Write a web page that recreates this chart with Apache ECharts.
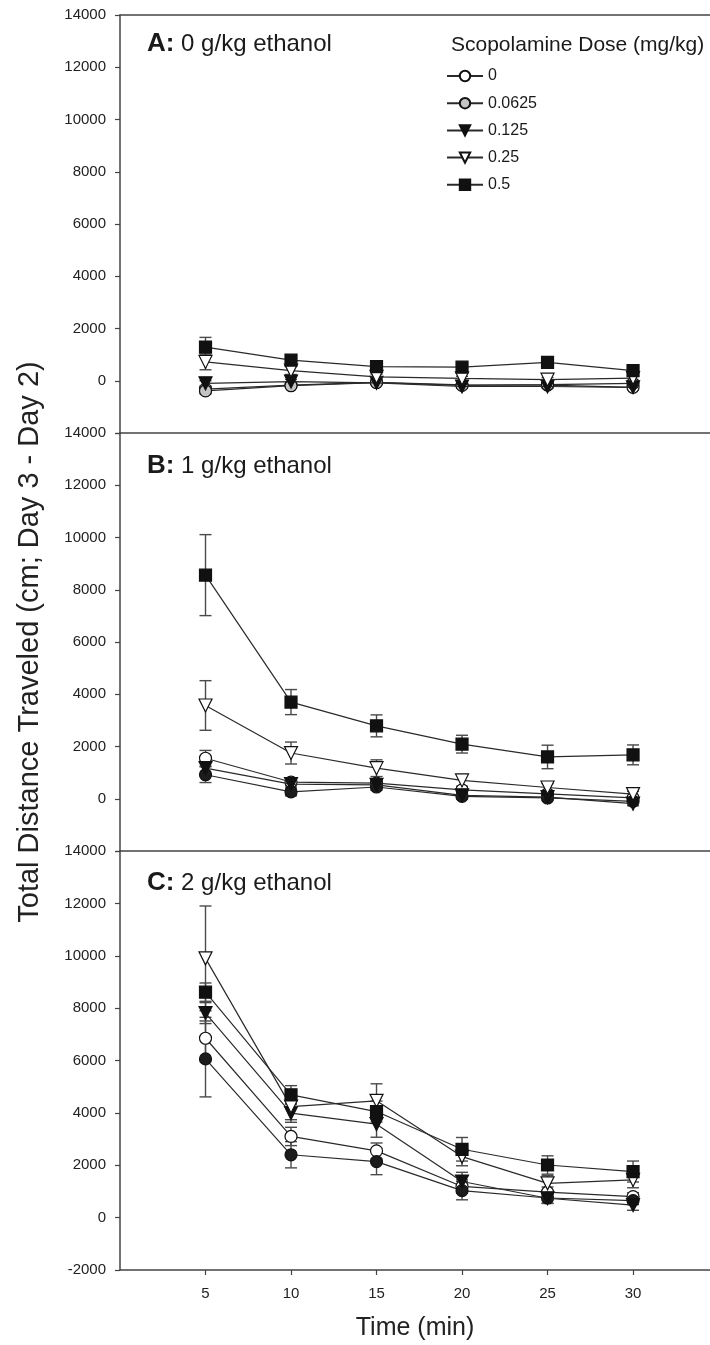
<!DOCTYPE html>
<html><head><meta charset="utf-8">
<script src="https://cdn.jsdelivr.net/npm/echarts@6/dist/echarts.min.js"></script>
<style>html,body{margin:0;padding:0;background:#fff}#c{width:710px;height:1345px}</style>
</head><body><div id="c"></div>
<script>
// ---- data ----
const times = [5, 10, 15, 20, 25, 30];
const doses = ['0', '0.0625', '0.125', '0.25', '0.5'];
const xTickValues = [5, 10, 15, 20, 25, 30];
const panelLetters = ['A:', 'B:', 'C:'];
const panelNames = ['0 g/kg ethanol', '1 g/kg ethanol', '2 g/kg ethanol'];

// Panel A: 0 g/kg ethanol (rows follow doses)
const meansA = [
  [-320, -170, -60, -160, -170, -250],
  [-390, -190, -70, -180, -150, -100],
  [-100, -30, -80, -220, -220, -250],
  [720, 390, 150, 90, 40, 100],
  [1290, 790, 540, 520, 700, 390]
];
const seA = [
  [100, 80, 60, 60, 60, 60],
  [100, 80, 60, 60, 60, 60],
  [100, 80, 60, 60, 60, 60],
  [300, 150, 100, 80, 80, 80],
  [370, 150, 120, 120, 150, 120]
];
// Panel B: 1 g/kg ethanol
const meansB = [
  [1550, 640, 600, 340, 190, 30],
  [920, 260, 450, 90, 30, -100],
  [1170, 560, 530, 130, 60, -190],
  [3570, 1750, 1170, 700, 430, 180],
  [8560, 3700, 2790, 2090, 1600, 1680]
];
const seB = [
  [300, 150, 120, 100, 100, 80],
  [300, 150, 120, 100, 80, 80],
  [250, 150, 120, 100, 80, 80],
  [950, 420, 320, 220, 150, 100],
  [1550, 480, 420, 340, 450, 380]
];
// Panel C: 2 g/kg ethanol
const meansC = [
  [6850, 3100, 2550, 1190, 970, 800],
  [6060, 2400, 2140, 1030, 750, 650],
  [7810, 3990, 3570, 1380, 740, 480],
  [9900, 4240, 4460, 2330, 1310, 1440],
  [8610, 4690, 4050, 2610, 2010, 1760]
];
const seC = [
  [800, 350, 300, 250, 200, 150],
  [1450, 500, 500, 350, 200, 150],
  [400, 350, 500, 350, 200, 200],
  [2000, 500, 650, 350, 300, 300],
  [350, 350, 400, 450, 350, 400]
];

// ---- styling ----
const FONT = 'Liberation Sans, Arial, sans-serif';
const AX = '#444';
const LINE = '#2a2a2a';
const markers = [
  {symbol: 'circle', size: 12, rotate: 0, fill: '#ffffff'},
  {symbol: 'circle', size: 12, rotate: 0, fill: null},
  {symbol: 'triangle', size: 13, rotate: 180, fill: '#111111'},
  {symbol: 'triangle', size: 13, rotate: 180, fill: '#ffffff'},
  {symbol: 'rect', size: 12, rotate: 0, fill: '#111111'}
];
const grayFill = ['#c4c4c4', '#1c1c1c', '#1c1c1c'];

const grids = [
  {left: 120, top: 15, width: 590, height: 418},
  {left: 120, top: 433, width: 590, height: 418},
  {left: 120, top: 851, width: 590, height: 419}
];

const xAxes = [0, 1, 2].map(i => ({
  type: 'value', gridIndex: i, min: 0, max: 34.5,
  axisLine: {show: true, onZero: false, lineStyle: {color: AX, width: 1.5}},
  axisTick: {show: i === 2, customValues: xTickValues, length: 5, lineStyle: {color: AX, width: 1.2}},
  axisLabel: {show: i === 2, customValues: xTickValues, margin: 16, fontSize: 15, color: '#222', fontFamily: FONT},
  splitLine: {show: false},
  name: i === 2 ? 'Time (min)' : '', nameLocation: 'middle', nameGap: 46,
  nameTextStyle: {fontSize: 25, color: '#222', fontFamily: FONT}
}));
// top frame line of panel A
xAxes.push({
  type: 'value', gridIndex: 0, position: 'top', min: 0, max: 34.5,
  axisLine: {show: true, onZero: false, lineStyle: {color: AX, width: 1.5}},
  axisTick: {show: false}, axisLabel: {show: false}, splitLine: {show: false}
});

const yAxes = [0, 1, 2].map(i => ({
  type: 'value', gridIndex: i, min: -2000, max: 14000, interval: 2000,
  axisLine: {show: true, onZero: false, lineStyle: {color: AX, width: 1.5}},
  axisTick: {show: true, length: 5, lineStyle: {color: AX, width: 1.2}},
  axisLabel: {
    margin: 14, fontSize: 15, color: '#222', fontFamily: FONT,
    formatter: v => (i < 2 && v === -2000) ? '' : String(v)
  },
  splitLine: {show: false},
  name: i === 1 ? 'Total Distance Traveled (cm; Day 3 - Day 2)' : '',
  nameLocation: 'middle', nameGap: 76,
  nameTextStyle: {fontSize: 29, color: '#222', fontFamily: FONT}
}));

const allMeans = [meansA, meansB, meansC];
const allSE = [seA, seB, seC];
const series = [];

for (let p = 0; p < 3; p++) {
  for (let d = 0; d < doses.length; d++) {
    const ebData = times.map((t, k) => [t, allMeans[p][d][k], allSE[p][d][k]]);
    series.push({
      type: 'custom', xAxisIndex: p, yAxisIndex: p, z: 2, silent: true,
      data: ebData, encode: {x: 0, y: 1},
      renderItem: (params, api) => {
        const x = api.value(0), y = api.value(1), e = api.value(2);
        const top = api.coord([x, y + e]);
        const bot = api.coord([x, y - e]);
        const w = 6;
        const st = {stroke: '#4a4a4a', lineWidth: 1.4};
        return {type: 'group', children: [
          {type: 'line', shape: {x1: top[0], y1: top[1], x2: bot[0], y2: bot[1]}, style: st},
          {type: 'line', shape: {x1: top[0] - w, y1: top[1], x2: top[0] + w, y2: top[1]}, style: st},
          {type: 'line', shape: {x1: bot[0] - w, y1: bot[1], x2: bot[0] + w, y2: bot[1]}, style: st}
        ]};
      }
    });
  }
  for (let d = 0; d < doses.length; d++) {
    const m = markers[d];
    const fill = m.fill === null ? grayFill[p] : m.fill;
    series.push({
      name: doses[d], type: 'line', xAxisIndex: p, yAxisIndex: p, z: 3 + d,
      data: times.map((t, k) => [t, allMeans[p][d][k]]),
      symbol: m.symbol, symbolSize: m.size, symbolRotate: m.rotate,
      showAllSymbol: true, animation: false,
      lineStyle: {color: LINE, width: 1.2},
      itemStyle: {color: fill, borderColor: '#111', borderWidth: 1.2},
      emphasis: {disabled: true}
    });
  }
}

const titles = panelLetters.map((L, i) => ({
  text: '{b|' + L + '} ' + panelNames[i],
  left: 142, top: [26, 448, 865][i],
  textStyle: {
    fontSize: 24, fontFamily: FONT, color: '#1a1a1a', fontWeight: 'normal',
    rich: {b: {fontSize: 26, fontWeight: 'bold', fontFamily: FONT, color: '#1a1a1a'}}
  }
}));
titles.push({
  text: 'Scopolamine Dose (mg/kg)', left: 446, top: 30,
  textStyle: {fontSize: 21, fontFamily: FONT, color: '#1a1a1a', fontWeight: 'normal'}
});

const chart = echarts.init(document.getElementById('c'), null, {renderer: 'canvas'});
chart.setOption({
  animation: false,
  backgroundColor: '#fff',
  title: titles,
  legend: {
    data: doses, orient: 'vertical', left: 441, top: 63,
    itemWidth: 36, itemHeight: 13, itemGap: 11.2, selectedMode: false,
    textStyle: {fontSize: 16, color: '#1a1a1a', fontFamily: FONT}
  },
  grid: grids,
  xAxis: xAxes,
  yAxis: yAxes,
  series: series
});
</script></body></html>
